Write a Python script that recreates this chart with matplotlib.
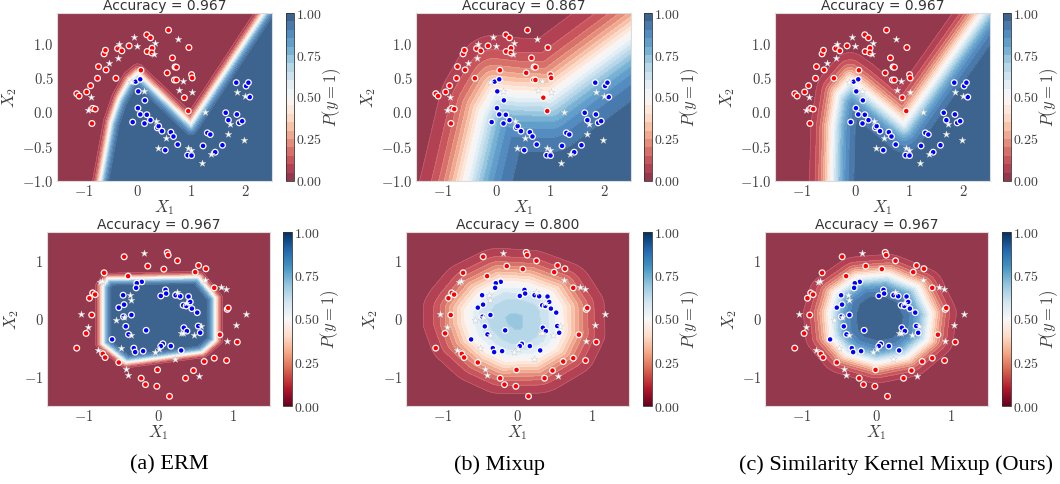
import numpy as np
import matplotlib.pyplot as plt
from matplotlib.path import Path
from matplotlib.cm import ScalarMappable
from matplotlib.colors import Normalize, ListedColormap

plt.rcParams['mathtext.fontset'] = 'cm'

# ---- two-moons data (train points by class, test points) ----
moons_red = [(-1.131, 0.273), (-1.089, 0.239), (-0.948, 0.298), (-0.875, 0.390), (-0.838, 0.059),
             (-0.789, 0.049), (-0.850, -0.161), (-0.746, 0.498), (-0.728, 0.668), (-0.624, 0.854),
             (-0.599, 0.907), (-0.587, 0.620), (-0.404, 0.498), (-0.373, 0.932), (-0.294, 0.898),
             (-0.159, 0.971), (0.061, 0.615), (0.171, 1.132), (0.239, 1.088), (0.177, 0.888),
             (0.269, 0.937), (0.263, 0.868), (0.575, 1.200), (0.954, 0.946), (0.648, 0.795),
             (0.697, 0.663), (0.722, 0.659), (0.550, 0.576), (0.685, 0.473), (0.722, 0.473),
             (1.003, 0.551), (1.015, 0.502), (0.869, 0.215), (0.942, 0.020)]
moons_blue = [(-0.037, 0.449), (0.049, 0.483), (0.012, 0.307), (0.135, 0.176), (0.006, 0.063),
              (0.049, -0.029), (0.171, -0.034), (-0.092, -0.141), (0.128, -0.161), (0.239, -0.112),
              (0.367, -0.224), (0.391, -0.200), (0.453, -0.273), (0.618, -0.288), (0.667, -0.351),
              (0.746, -0.468), (0.514, -0.551), (0.930, -0.624), (1.003, -0.629), (1.217, -0.488),
              (1.443, -0.580), (1.578, -0.478), (1.297, -0.298), (1.352, -0.322), (1.639, -0.005),
              (1.688, -0.112), (1.847, -0.029), (1.890, -0.151), (1.945, -0.127), (1.835, 0.434),
              (2.018, 0.385), (2.061, 0.434), (2.086, 0.224)]
moons_test = [(-0.875, 0.224), (-0.924, 0.029), (-0.526, 0.727), (-0.343, 1.005), (-0.367, 0.795),
              (-0.073, 1.098), (-0.018, 0.966), (0.324, 1.010), (0.300, 0.859), (0.758, 1.078),
              (0.838, 0.454), (0.771, 0.327), (1.003, 0.302), (-0.116, 0.439), (0.110, 0.317),
              (0.343, -0.132), (0.520, -0.371), (0.385, -0.522), (0.930, -0.517), (0.991, -0.551),
              (1.199, -0.732), (1.358, -0.610), (1.260, 0.005), (1.713, -0.176), (1.688, -0.312),
              (1.841, 0.298), (2.000, 0.234), (1.988, -0.400)]

# ---- concentric circles data ----
circles_red = [(0.117, 1.148), (0.130, 1.102), (-0.462, 1.073), (-0.144, 0.912), (0.072, 0.860),
               (0.256, 1.004), (0.539, 0.923), (0.638, 0.866), (0.494, 0.808), (0.750, 0.537),
               (0.925, 0.167), (0.938, 0.190), (0.826, -0.271), (1.060, -0.398), (0.750, -0.675),
               (0.615, -0.733), (0.916, -0.716), (0.471, -0.889), (0.364, -1.021), (-0.013, -0.877),
               (-0.022, -1.160), (0.148, -1.333), (-0.175, -1.131), (-0.233, -1.021), (-0.534, -0.750),
               (-0.750, -0.600), (-0.718, -0.664), (-1.100, -0.502), (-0.974, -0.248), (-0.898, 0.069),
               (-0.929, 0.358), (-0.885, 0.450), (-0.853, 0.421), (-0.732, 0.796), (-0.409, 0.739)]
circles_blue = [(-0.225, 0.641), (-0.292, 0.617), (-0.301, 0.537), (-0.476, 0.410), (-0.463, 0.248),
                (-0.534, 0.196), (-0.364, 0.069), (-0.471, 0.040), (-0.440, -0.127), (-0.404, -0.265),
                (-0.166, -0.196), (-0.624, -0.352), (-0.332, -0.502), (-0.314, -0.571), (-0.207, -0.554),
                (0.094, 0.502), (0.103, 0.439), (0.031, 0.398), (0.229, 0.410), (0.292, 0.392),
                (0.404, 0.387), (0.427, 0.294), (0.332, 0.237), (0.373, 0.225), (0.449, 0.179),
                (0.521, 0.110), (0.341, -0.150), (0.382, -0.208), (0.534, -0.121), (0.561, -0.237),
                (0.058, -0.427), (0.031, -0.467), (0.166, -0.467), (0.305, -0.542)]
circles_test = [(-0.189, 1.143), (-0.786, 0.641), (-0.759, 0.652), (-1.037, 0.081), (-0.947, -0.133),
                (-0.817, -0.531), (-0.440, -0.866), (-0.409, -0.958), (-0.377, 0.421), (-0.373, 0.335),
                (-0.570, -0.012), (-0.462, 0.029), (-0.368, -0.277), (-0.498, -0.496), (-0.045, -0.571),
                (0.013, -0.514), (0.251, 0.462), (0.368, 0.271), (0.305, -0.248), (0.328, -0.248),
                (0.566, -0.127), (0.476, -0.277), (0.220, -0.687), (0.624, 0.664), (0.835, 0.560),
                (0.903, 0.525), (1.172, 0.092), (1.037, -0.104), (0.916, -0.375), (0.548, -0.975)]

# ---- P(y=1)=0.5 boundaries, with transition width ----
moons_edges = [
    [(-0.75, -1.30), (-0.70, -1.05), (-0.49, -0.15), (-0.34, 0.19), (-0.15, 0.46), (0.0, 0.56),
     (0.99, -0.18), (2.40, 1.50), (2.50, 1.62)],
    [(-0.68, -1.35), (-0.60, -1.10), (-0.27, 0.0), (-0.05, 0.30), (0.40, 0.26), (1.0, 0.25),
     (2.60, 1.18)],
    [(-0.46, -1.30), (-0.45, -1.10), (-0.42, -0.20), (-0.33, 0.25), (-0.10, 0.46), (0.10, 0.35),
     (0.90, -0.17), (2.45, 1.55)],
]
moons_width = [0.05, 0.28, 0.14]
circles_edges = [
    [(-0.674, 0.687), (0.534, 0.716), (0.759, 0.358), (0.759, -0.364), (0.579, -0.565),
     (-0.431, -0.739), (-0.745, -0.421), (-0.745, 0.560)],
    [(-0.80, 0.18), (-0.80, -0.06), (-0.71, -0.38), (-0.47, -0.66), (-0.20, -0.82), (0.26, -0.81),
     (0.59, -0.56), (0.71, -0.24), (0.70, 0.22), (0.54, 0.54), (0.16, 0.72), (-0.25, 0.75),
     (-0.58, 0.54), (-0.75, 0.28)],
    [(-0.63, 0.10), (-0.55, 0.45), (-0.25, 0.72), (0.15, 0.76), (0.55, 0.55), (0.72, 0.10),
     (0.68, -0.35), (0.40, -0.65), (0.0, -0.75), (-0.40, -0.60), (-0.60, -0.30)],
]
circles_width = [0.035, 0.18, 0.12]
circles_peak = [1.0, 0.72, 1.0]

accuracy = [["0.967", "0.867", "0.967"], ["0.967", "0.800", "0.967"]]
captions = ["(a) ERM", "(b) Mixup", "(c) Similarity Kernel Mixup (Ours)"]
moons_xticks, moons_yticks = [-1, 0, 1, 2], [-1.0, -0.5, 0.0, 0.5, 1.0]
circles_ticks = [-1, 0, 1]
cbar_ticks = [0.0, 0.25, 0.5, 0.75, 1.0]


def edge_dist(gx, gy, verts, closed=False):
    v = np.asarray(verts, float)
    if closed:
        v = np.vstack([v, v[:1]])
    d = np.full(gx.shape, np.inf)
    for (x0, y0), (x1, y1) in zip(v[:-1], v[1:]):
        dx, dy = x1 - x0, y1 - y0
        t = np.clip(((gx - x0) * dx + (gy - y0) * dy) / (dx * dx + dy * dy), 0, 1)
        d = np.minimum(d, np.hypot(gx - x0 - t * dx, gy - y0 - t * dy))
    return d


def sigmoid(z):
    return 1.0 / (1.0 + np.exp(-z))


W, H = 1060, 484
fig = plt.figure(figsize=(W / 100, H / 100), dpi=100)


def box(x0, y0, x1, y1):
    return [x0 / W, 1 - y1 / H, (x1 - x0) / W, (y1 - y0) / H]


ax_px = [[(57, 13, 272, 181), (416, 13, 631, 181), (775, 13, 990, 181)],
         [(47, 232, 270, 406), (406, 232, 629, 406), (765, 232, 988, 406)]]
cb_px = [[(286, 294), (644, 652), (1003, 1011)],
         [(283, 292), (643, 652), (1002, 1011)]]

cm = plt.cm.RdBu
# RdBu drawn at alpha 0.8 on white, pre-blended so the filled bands have no seams
rgba = cm(np.linspace(0, 1, 256))
rgba[:, :3] = 0.8 * rgba[:, :3] + 0.2
cm_soft = ListedColormap(rgba)
cm_bright = ListedColormap(['#FF0000', '#0000FF'])
levels = np.linspace(0, 1, 21)
grey = '#404040'


def fmt(v, dec):
    return f"${v:.{dec}f}$"


for row in range(2):
    for col in range(3):
        ax = fig.add_axes(box(*ax_px[row][col]))
        if row == 0:
            xlim, ylim = (-1.5, 2.5), (-1.0, 1.45)
            gx, gy = np.meshgrid(np.linspace(*xlim, 400), np.linspace(*ylim, 300))
            verts = np.asarray(moons_edges[col])
            d = edge_dist(gx, gy, verts)
            inside = gy < np.interp(gx, verts[:, 0], verts[:, 1])
            Z = sigmoid(np.where(inside, d, -d) / moons_width[col])
            red, blue, test = moons_red, moons_blue, moons_test
            xt, yt, ydec = moons_xticks, moons_yticks, 1
        else:
            xlim, ylim = (-1.5, 1.5), (-1.5, 1.5)
            gx, gy = np.meshgrid(np.linspace(*xlim, 400), np.linspace(*ylim, 400))
            verts = circles_edges[col]
            d = edge_dist(gx, gy, verts, closed=True)
            inside = Path(verts).contains_points(np.c_[gx.ravel(), gy.ravel()]).reshape(gx.shape)
            Z = circles_peak[col] * sigmoid(np.where(inside, d, -d) / circles_width[col])
            red, blue, test = circles_red, circles_blue, circles_test
            xt, yt, ydec = circles_ticks, circles_ticks, 0

        cs = ax.contourf(gx, gy, Z, levels=levels, cmap=cm_soft)
        ax.contour(gx, gy, Z, levels=levels[1:-1], colors='white', linewidths=0.5, alpha=0.18)
        pts = np.array(red + blue)
        lab = np.r_[np.zeros(len(red)), np.ones(len(blue))]
        ax.scatter(pts[:, 0], pts[:, 1], c=lab, cmap=cm_bright, s=17,
                   edgecolors='white', linewidths=0.9, zorder=3)
        tp = np.array(test)
        ax.scatter(tp[:, 0], tp[:, 1], marker='*', s=26, color='white',
                   edgecolors='#c8c8c8', linewidths=0.3, zorder=4)

        ax.set_xlim(*xlim)
        ax.set_ylim(*ylim)
        ax.set_xticks(xt, [fmt(v, 0) for v in xt])
        ax.set_yticks(yt, [fmt(v, ydec) for v in yt])
        ax.tick_params(length=0, pad=2.5, labelsize=10.5, colors=grey)
        for sp in ax.spines.values():
            sp.set_color('#dcdcdc')
            sp.set_linewidth(0.8)
        ax.set_xlabel(r'$X_1$', fontsize=12, color=grey, labelpad=-1)
        ax.set_ylabel(r'$X_2$', fontsize=12, color=grey, labelpad=2)
        ax.set_title(f"Accuracy = {accuracy[row][col]}", fontsize=10, color='#333333', pad=1.5)

        c0, c1 = cb_px[row][col]
        t0, b0 = ax_px[row][col][1], ax_px[row][col][3]
        cax = fig.add_axes(box(c0, t0, c1, b0))
        if row == 0:
            cb = fig.colorbar(cs, cax=cax, ticks=cbar_ticks)
        else:
            cb = fig.colorbar(ScalarMappable(norm=Normalize(0, 1), cmap=cm), cax=cax, ticks=cbar_ticks)
        cb.ax.set_yticklabels([fmt(v, 2) for v in cbar_ticks])
        cb.ax.tick_params(length=0, pad=1.5, labelsize=10, colors=grey)
        cb.outline.set_edgecolor('#333333')
        cb.outline.set_linewidth(0.6)
        cb.set_label(r'$P(y=1)$', fontsize=12, color=grey, labelpad=-1)

cap_x = [169, 500, 896]
for cx, text in zip(cap_x, captions):
    fig.text(cx / W, 1 - 465 / H, text, ha='center', va='center',
             family='Liberation Serif', fontsize=16)

fig.savefig('out.png', dpi=100)
